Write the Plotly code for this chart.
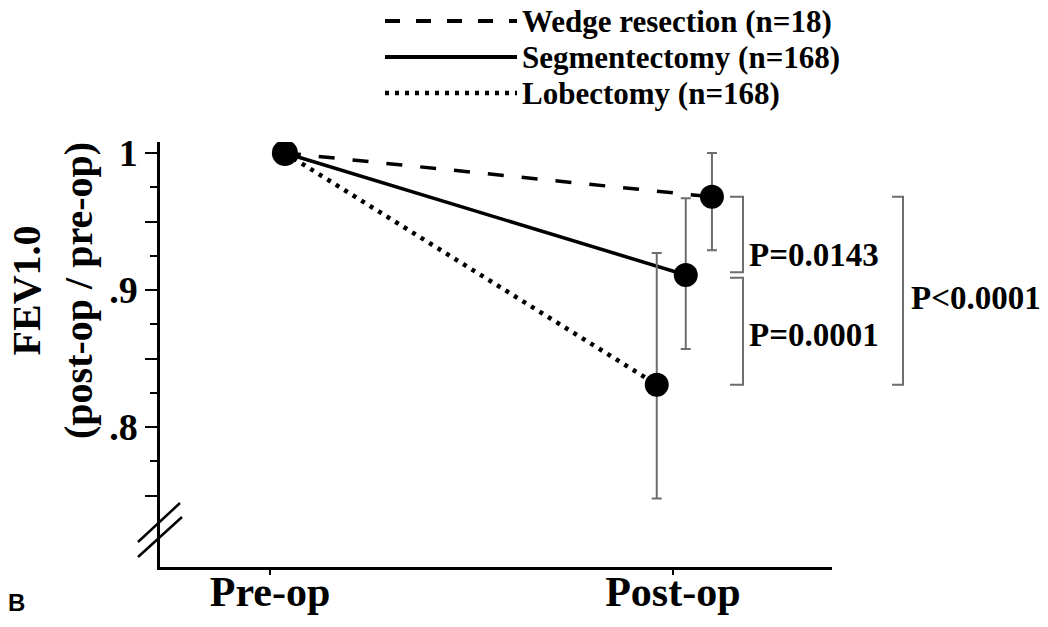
import plotly.graph_objects as go

# FEV1.0 ratio (post-op / pre-op) by type of resection
groups = ["Wedge resection (n=18)", "Segmentectomy (n=168)", "Lobectomy (n=168)"]
pre_values = [1.0, 1.0, 1.0]
post_values = [0.968, 0.911, 0.831]
err_upper = [0.032, 0.056, 0.096]
err_lower = [0.039, 0.054, 0.083]
p_labels = ["P=0.0143", "P=0.0001", "P<0.0001"]
x_labels = ["Pre-op", "Post-op"]
y_tick_vals = [0.75, 0.80, 0.85, 0.90, 0.95, 1.00]
y_tick_text = ["", ".8", "", ".9", "", "1"]
y_minor_vals = [0.775, 0.825, 0.875, 0.925, 0.975]

# horizontal dodge of each group around the category positions
pre_offset = 0.037
post_offsets = [0.097, 0.032, -0.040]
dashes = ["16px,18px", "solid", "4px,6px"]
widths = [3.5, 3.5, 4.5]

W, H = 1048, 627
L, R, T, B = 160, 216, 142, 60
PW, PH = W - L - R, H - T - B


def px_x(px):
    return (px - L) / PW


def px_y(py):
    return (H - B - py) / PH


SERIF = "Liberation Serif"
GREY = "#6e6e6e"

fig = go.Figure()

for i, name in enumerate(groups):
    fig.add_trace(go.Scatter(
        x=[0 + pre_offset, 1 + post_offsets[i]],
        y=[pre_values[i], post_values[i]],
        mode="lines",
        line=dict(color="black", width=widths[i], dash=dashes[i]),
        name=name, showlegend=False, hoverinfo="skip",
    ))

for i, name in enumerate(groups):
    fig.add_trace(go.Scatter(
        x=[1 + post_offsets[i]],
        y=[post_values[i]],
        mode="markers",
        marker=dict(color="black", size=24),
        error_y=dict(type="data", symmetric=False,
                     array=[err_upper[i]], arrayminus=[err_lower[i]],
                     color=GREY, thickness=2, width=5),
        name=name, showlegend=False,
    ))

fig.add_trace(go.Scatter(
    x=[0 + pre_offset], y=[pre_values[0]], mode="markers",
    marker=dict(color="black", size=26), showlegend=False,
))

shapes = []
annotations = []

# significance brackets between group means
def bracket(x_left_px, x_right_px, y_top, y_bottom):
    x1, x2 = px_x(x_left_px), px_x(x_right_px)
    return dict(type="path", xref="paper", yref="y",
                path=f"M {x1},{y_top} L {x2},{y_top} L {x2},{y_bottom} L {x1},{y_bottom}",
                line=dict(color=GREY, width=2))

gap = 0.002
shapes.append(bracket(730, 743, post_values[0], post_values[1] + gap))
shapes.append(bracket(730, 743, post_values[1] - gap, post_values[2]))
shapes.append(bracket(892, 903, post_values[0], post_values[2]))

p_pos = [(747, 0.9255), (747, 0.8675), (909, 0.894)]
for (xp, yv), txt in zip(p_pos, p_labels):
    annotations.append(dict(text=txt, xref="paper", yref="y", x=px_x(xp), y=yv,
                            xanchor="left", yanchor="middle", showarrow=False,
                            font=dict(family=SERIF, size=33, color="black", weight="bold")))

# legend drawn as line samples with labels above the plot
legend_rows = [21, 57, 93]
for i, name in enumerate(groups):
    yy = px_y(legend_rows[i])
    shapes.append(dict(type="line", xref="paper", yref="paper",
                       x0=px_x(385), x1=px_x(517), y0=yy, y1=yy,
                       line=dict(color="black", width=4 if i < 2 else 4.5,
                                 dash=["15px,16px", "solid", "4px,6px"][i])))
    annotations.append(dict(text=name, xref="paper", yref="paper", x=px_x(520), y=yy,
                            xanchor="left", yanchor="middle", showarrow=False,
                            font=dict(family=SERIF, size=31, color="black", weight="bold")))

# axis break marks
for (xa, ya, xb, yb) in [(138, 542, 180, 503), (138, 557, 182, 517)]:
    shapes.append(dict(type="line", xref="paper", yref="paper",
                       x0=px_x(xa), y0=px_y(ya), x1=px_x(xb), y1=px_y(yb),
                       line=dict(color="black", width=2.5)))

annotations.append(dict(text="FEV1.0<br>(post-op / pre-op)", xref="paper", yref="paper",
                        x=px_x(52), y=px_y(290), xanchor="center", yanchor="middle",
                        textangle=-90, showarrow=False,
                        font=dict(family=SERIF, size=40, color="black", weight="bold")))

annotations.append(dict(text="B", xref="paper", yref="paper", x=px_x(16), y=px_y(602),
                        xanchor="center", yanchor="middle", showarrow=False,
                        font=dict(family="Liberation Sans", size=24, color="black", weight="bold")))

fig.update_layout(
    width=W, height=H,
    margin=dict(l=L, r=R, t=T, b=B, pad=0),
    paper_bgcolor="white", plot_bgcolor="white",
    shapes=shapes, annotations=annotations,
    showlegend=False,
)

fig.update_xaxes(
    range=[-0.273, 1.395], showgrid=False, zeroline=False, automargin=False,
    showline=True, linecolor="black", linewidth=2.5,
    tickmode="array", tickvals=[0, 1], ticktext=x_labels,
    ticks="outside", ticklen=5, tickwidth=2, tickcolor="black",
    ticklabelstandoff=-19,
    tickfont=dict(family=SERIF, size=42, color="black", weight="bold"),
)

fig.update_yaxes(
    range=[0.698, 1.008], showgrid=False, zeroline=False, automargin=False,
    showline=True, linecolor="black", linewidth=2.5,
    tickmode="array", tickvals=y_tick_vals, ticktext=y_tick_text,
    ticks="outside", ticklen=12, tickwidth=2, tickcolor="black",
    tickfont=dict(family=SERIF, size=38, color="black", weight="bold"),
    minor=dict(tickmode="array", tickvals=y_minor_vals, ticks="outside",
               ticklen=7, tickwidth=2, tickcolor="black"),
)

fig.write_html("out.html")
